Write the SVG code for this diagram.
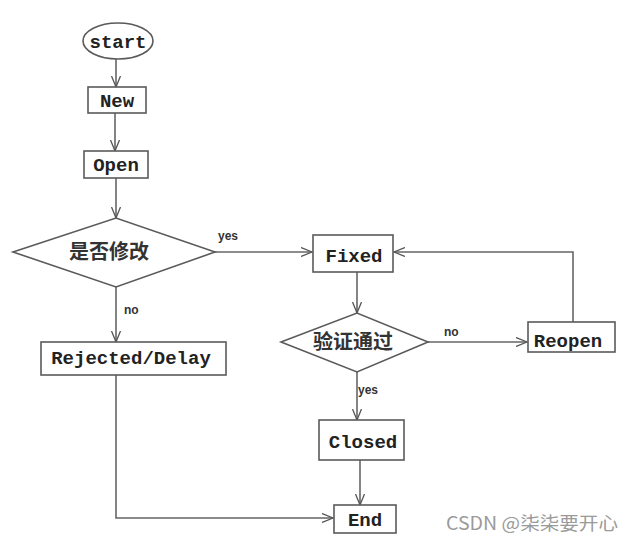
<svg xmlns="http://www.w3.org/2000/svg" width="633" height="543" viewBox="0 0 633 543">
<defs>
<marker id="arr" viewBox="0 0 12 10" refX="11" refY="5" markerWidth="12" markerHeight="10" markerUnits="userSpaceOnUse" orient="auto">
<path d="M0,0.5 L11,5 L0,9.5" fill="none" stroke="#555" stroke-width="1.3"/>
</marker>
</defs>
<style>
.box{fill:#fff;stroke:#5a5a5a;stroke-width:1.6}
.t{font-family:"Liberation Mono","DejaVu Sans Mono",monospace;font-size:19px;font-weight:bold;fill:#222;text-anchor:middle}
.cn{font-family:"Noto Sans CJK SC",sans-serif;font-size:20px;font-weight:bold;fill:#333;text-anchor:middle}
.lbl{font-family:"Liberation Sans",Arial,sans-serif;font-size:12px;font-weight:bold;fill:#333}
.ln{fill:none;stroke:#666;stroke-width:1.6}
.wm{font-family:"Noto Sans CJK SC",sans-serif;font-size:18px;fill:#9a9a9a}
</style>
<rect width="633" height="543" fill="#fff"/>
<g id="connectors">
<path class="ln" d="M116,59 V87" marker-end="url(#arr)"/>
<path class="ln" d="M115,113 V151" marker-end="url(#arr)"/>
<path class="ln" d="M116,178 V218" marker-end="url(#arr)"/>
<path class="ln" d="M215,252 H312" marker-end="url(#arr)"/>
<path class="ln" d="M116,287 V342" marker-end="url(#arr)"/>
<path class="ln" d="M357,272 V313" marker-end="url(#arr)"/>
<path class="ln" d="M428,342 H527" marker-end="url(#arr)"/>
<path class="ln" d="M573,322 V252 H394" marker-end="url(#arr)"/>
<path class="ln" d="M357,372 V420" marker-end="url(#arr)"/>
<path class="ln" d="M360,460 V505" marker-end="url(#arr)"/>
<path class="ln" d="M116,375 V518 H333" marker-end="url(#arr)"/>
<text class="lbl" x="218" y="240">yes</text>
<text class="lbl" x="124" y="314">no</text>
<text class="lbl" x="444" y="336">no</text>
<text class="lbl" x="358" y="394">yes</text>
</g>
<g id="start"><ellipse class="box" cx="118" cy="41" rx="35" ry="18"/><text class="t" x="118" y="48">start</text></g>
<g id="new"><rect class="box" x="88" y="87" width="58" height="26"/><text class="t" x="117" y="107">New</text></g>
<g id="open"><rect class="box" x="84" y="151" width="64" height="27"/><text class="t" x="116" y="171">Open</text></g>
<g id="modify"><polygon class="box" points="13,252 116,218 215,252 116,287"/><text class="cn" x="109" y="259">是否修改</text></g>
<g id="rejected"><rect class="box" x="41" y="342" width="185" height="33"/><text class="t" x="131" y="364">Rejected/Delay</text></g>
<g id="fixed"><rect class="box" x="313" y="235" width="80" height="37"/><text class="t" x="354" y="262">Fixed</text></g>
<g id="verify"><polygon class="box" points="281,342 357,313 428,342 357,372"/><text class="cn" x="353" y="349">验证通过</text></g>
<g id="reopen"><rect class="box" x="528" y="322" width="87" height="30"/><text class="t" x="568" y="347">Reopen</text></g>
<g id="closed"><rect class="box" x="319" y="420" width="85" height="40"/><text class="t" x="363" y="448">Closed</text></g>
<g id="end"><rect class="box" x="334" y="505" width="62" height="28"/><text class="t" x="365" y="526">End</text></g>
<text class="wm" x="446" y="530" textLength="172" lengthAdjust="spacingAndGlyphs">CSDN @柒柒要开心</text>
</svg>
